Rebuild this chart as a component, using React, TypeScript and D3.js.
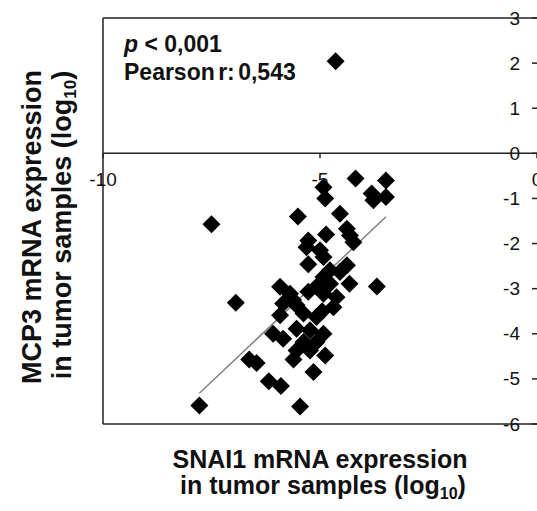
import React from "react";
import * as d3 from "d3";

// SNAI1 (x) and MCP3 (y) expression, log10
const snai1 = [
  -7.78, -7.5, -6.94, -6.63, -6.46, -6.18, -5.9, -5.46, -5.15, -4.18,
  -3.48, -3.81, -3.77, -3.48, -3.69, -4.32, -4.92, -4.88, -5.51, -4.54,
  -4.86, -4.38, -4.31, -4.23, -5.27, -5.31, -5.0, -4.92, -5.27, -4.38,
  -4.54, -4.77, -4.92, -4.77, -5.92, -5.69, -5.27, -5.08, -4.92, -4.62,
  -4.69, -5.85, -5.54, -5.92, -5.38, -5.08, -5.54, -6.08, -5.85, -4.92,
  -5.08, -5.38, -5.54, -5.23, -4.88, -5.61, -5.23, -5.62, -4.64, -4.95,
];
const mcp3 = [
  -5.59, -1.57, -3.31, -4.57, -4.65, -5.05, -5.16, -5.61, -4.85, -0.56,
  -0.6, -0.89, -1.04, -0.97, -2.95, -2.89, -0.75, -1.0, -1.4, -1.34,
  -1.8, -1.67, -1.82, -1.97, -1.93, -2.08, -2.15, -2.3, -2.46, -2.48,
  -2.63, -2.59, -2.74, -2.89, -2.96, -3.11, -3.07, -2.96, -3.11, -3.19,
  -3.41, -3.33, -3.37, -3.59, -3.55, -3.63, -3.89, -4.0, -4.11, -4.0,
  -4.18, -4.18, -4.37, -4.37, -4.48, -4.57, -3.92, -3.25, 2.04, -3.5,
];
const fitSlope = 0.91;
const fitIntercept = 1.76;
const xTicks = [-10, -5, 0];
const yTicks = [3, 2, 1, 0, -1, -2, -3, -4, -5, -6];

const W = 537;
const H = 511;
const FONT = "'Liberation Sans', Arial, sans-serif";

export default function App() {
  const x = d3.scaleLinear().domain([-10, 0]).range([103, 537]);
  const y = d3.scaleLinear().domain([-6, 3]).range([424, 18]);
  const diamond = d3.symbol().type(d3.symbolSquare).size(162)()!;
  const xMin = d3.min(snai1)!;
  const xMax = d3.max(snai1)!;
  const pts = snai1.map((v, i) => [v, mcp3[i]]);

  return (
    <div style={{ position: "absolute", left: 0, top: 0 }}>
      <svg width={W} height={H} style={{ display: "block", background: "#fff" }}>
        {/* plot frame */}
        <g stroke="#222" strokeWidth={1.5} fill="none">
          <line x1={x(-10)} x2={x(0)} y1={y(3)} y2={y(3)} />
          <line x1={x(-10)} x2={x(0)} y1={y(-6)} y2={y(-6)} />
          <line x1={x(-10)} x2={x(-10)} y1={y(3)} y2={y(-6)} />
          {/* x axis at y=0 */}
          <line x1={x(-10)} x2={x(0)} y1={y(0)} y2={y(0)} />
          {xTicks.map((t) => (
            <line key={"xt" + t} x1={x(t)} x2={x(t)} y1={y(0)} y2={y(0) + 5} />
          ))}
          {yTicks.map((t) => (
            <line key={"yt" + t} x1={x(0) - 5} x2={x(0)} y1={y(t)} y2={y(t)} />
          ))}
        </g>
        {/* tick labels */}
        <g fontFamily={FONT} fontSize={19} fill="#111">
          {xTicks.map((t) => (
            <text key={"xl" + t} x={x(t)} y={y(0) + 33} textAnchor="middle">
              {String(t)}
            </text>
          ))}
          {yTicks.map((t) => (
            <text key={"yl" + t} x={x(0) - 17} y={y(t)} textAnchor="end" dominantBaseline="central">
              {String(t)}
            </text>
          ))}
        </g>
        {/* regression line */}
        <line
          x1={x(xMin)}
          y1={y(fitIntercept + fitSlope * xMin)}
          x2={x(xMax)}
          y2={y(fitIntercept + fitSlope * xMax)}
          stroke="#808080"
          strokeWidth={1.5}
        />
        {/* points */}
        <g fill="#000">
          {pts.map((p, i) => (
            <path key={i} d={diamond} transform={`translate(${x(p[0])},${y(p[1])}) rotate(45)`} />
          ))}
        </g>
        {/* annotation */}
        <g fontFamily={FONT} fontSize={23} fontWeight="bold" fill="#111">
          <text x={124} y={52}>
            <tspan fontStyle="italic">p</tspan> &lt; 0,001
          </text>
          <text x={124} y={80} wordSpacing={-3}>
            Pearson r: 0,543
          </text>
        </g>
        {/* x title */}
        <g fontFamily={FONT} fontWeight="bold" fill="#111" fontSize={25} textAnchor="middle">
          <text x={320} y={468}>SNAI1 mRNA expression</text>
          <text x={323} y={494}>
            in tumor samples (log<tspan fontSize={16} dy={5}>10</tspan>
            <tspan dy={-5}>)</tspan>
          </text>
        </g>
        {/* y title */}
        <g fontFamily={FONT} fontWeight="bold" fill="#111" fontSize={27} textAnchor="middle">
          <text transform="translate(41,227) rotate(-90)">MCP3 mRNA expression</text>
          <text transform="translate(71,225) rotate(-90)">
            in tumor samples (log<tspan fontSize={17} dy={5}>10</tspan>
            <tspan dy={-5}>)</tspan>
          </text>
        </g>
      </svg>
    </div>
  );
}
